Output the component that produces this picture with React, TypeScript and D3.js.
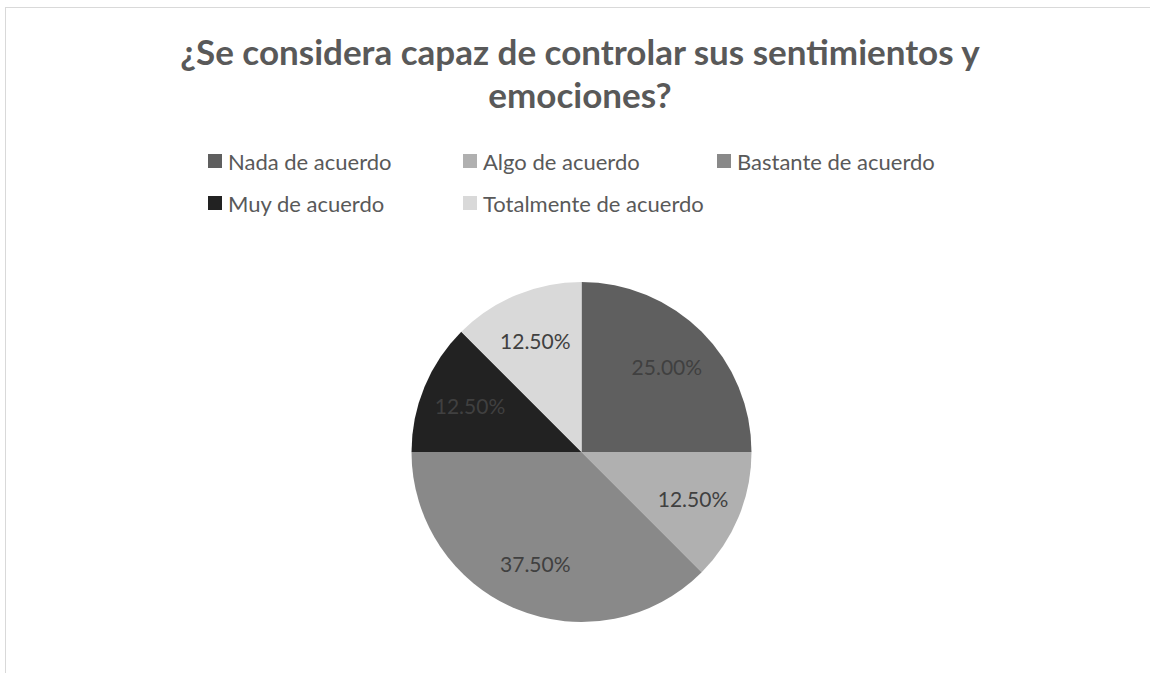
import React, { useMemo } from "react";
import { pie, arc, PieArcDatum } from "d3";

const categories = [
  "Nada de acuerdo",
  "Algo de acuerdo",
  "Bastante de acuerdo",
  "Muy de acuerdo",
  "Totalmente de acuerdo",
];
const values = [25.0, 12.5, 37.5, 12.5, 12.5];
const colors = ["#5f5f5f", "#b0b0b0", "#898989", "#222222", "#d9d9d9"];
const titleLines = ["¿Se considera capaz de controlar sus sentimientos y", "emociones?"];

const W = 1150;
const H = 673;
const FONT = "Lato, 'Open Sans', sans-serif";

type Slice = { name: string; value: number; color: string };

const App: React.FC = () => {
  const data: Slice[] = useMemo(
    () => categories.map((name, i) => ({ name, value: values[i], color: colors[i] })),
    []
  );

  const cx = 581.5;
  const cy = 452;
  const radius = 170;

  const arcs = useMemo(
    () => pie<Slice>().value((d) => d.value).sort(null)(data),
    [data]
  );
  const sliceArc = arc<PieArcDatum<Slice>>().innerRadius(0).outerRadius(radius);
  const labelArc = arc<PieArcDatum<Slice>>()
    .innerRadius(radius * 0.71)
    .outerRadius(radius * 0.71);

  // legend: 3 columns, 2 rows
  const legendX = [208, 463, 717];
  const legendY = [161, 203];

  return (
    <div style={{ position: "fixed", left: 0, top: 0 }}>
      <svg width={W} height={H} style={{ display: "block" }}>
        <rect x={0} y={0} width={W} height={H} fill="#ffffff" />
        <rect
          x={5.5}
          y={7.5}
          width={W + 20}
          height={H + 20}
          fill="#ffffff"
          stroke="#d9d9d9"
          strokeWidth={1}
        />

        <g fontFamily={FONT} fontWeight={700} fontSize={35} fill="#595959" textAnchor="middle">
          {titleLines.map((t, i) => (
            <text key={i} x={580} y={65 + i * 43}>
              {t}
            </text>
          ))}
        </g>

        <g fontFamily={FONT} fontSize={22} fill="#595959">
          {data.map((d, i) => {
            const x = legendX[i % 3];
            const y = legendY[Math.floor(i / 3)];
            return (
              <g key={d.name} transform={`translate(${x},${y})`}>
                <rect x={0} y={-7} width={14} height={14} fill={d.color} />
                <text x={20} y={0} dominantBaseline="central">
                  {d.name}
                </text>
              </g>
            );
          })}
        </g>

        <g transform={`translate(${cx},${cy})`}>
          {arcs.map((a) => (
            <path key={a.data.name} d={sliceArc(a) || ""} fill={a.data.color} />
          ))}
          {arcs.map((a) => {
            const [lx, ly] = labelArc.centroid(a);
            return (
              <text
                key={a.data.name + "-l"}
                x={lx}
                y={ly}
                textAnchor="middle"
                dominantBaseline="central"
                fontFamily={FONT}
                fontSize={21}
                fill="#404040"
              >
                {a.data.value.toFixed(2)}%
              </text>
            );
          })}
        </g>
      </svg>
    </div>
  );
};

export default App;
